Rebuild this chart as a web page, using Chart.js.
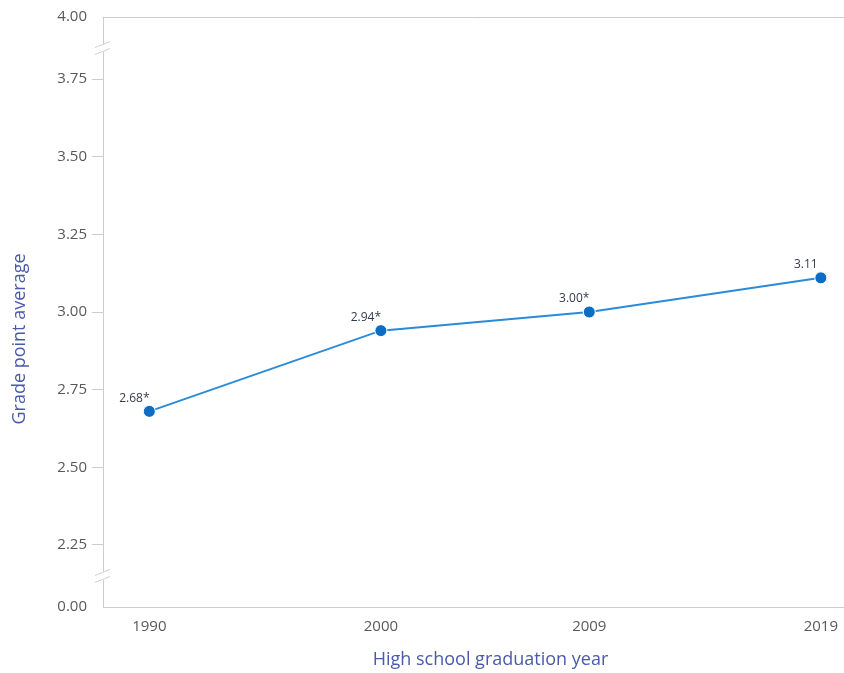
<!DOCTYPE html>
<html>
<head>
<meta charset="utf-8">
<script src="https://cdn.jsdelivr.net/npm/chart.js@4.4.1/dist/chart.umd.min.js"></script>
<style>
  html, body { margin: 0; padding: 0; background: #fff; }
  #wrap { width: 844px; height: 673px; }
</style>
</head>
<body>
<div id="wrap"><canvas id="gpaChart" width="844" height="673"></canvas></div>
<script>
// data
const years = [1990, 2000, 2009, 2019];
const gpa = [2.68, 2.94, 3.00, 3.11];
const significant = [true, true, true, false]; // the * marker
const yTicks = [0, 2.25, 2.50, 2.75, 3.00, 3.25, 3.50, 3.75, 4.00];
const xTicks = [1990, 2000, 2009, 2019];
const xTitle = "High school graduation year";
const yTitle = "Grade point average";

// broken axis: 0.00 and 4.00 sit just beyond the 2.25..3.75 band
const axisLow = 2.05, axisHigh = 3.95;
function toAxis(v) {
  if (v === 0) return axisLow;
  if (v === 4) return axisHigh;
  return v;
}
function fromAxis(v) {
  if (Math.abs(v - axisLow) < 1e-6) return 0;
  if (Math.abs(v - axisHigh) < 1e-6) return 4;
  return v;
}

const axisGray = "#cccccc";
const titleBlue = "#4a5aa8";
const tickGray = "#595959";

// labels above each point, axis titles, top border, axis break marks
const extras = {
  id: "extras",
  afterDatasetsDraw(chart) {
    const { ctx } = chart;
    const meta = chart.getDatasetMeta(0);
    ctx.save();
    ctx.font = "12px 'Open Sans'";
    ctx.fillStyle = "#333a4a";
    ctx.textAlign = "center";
    ctx.textBaseline = "middle";
    meta.data.forEach((pt, i) => {
      const txt = gpa[i].toFixed(2) + (significant[i] ? "*" : "");
      ctx.fillText(txt, pt.x - 15, pt.y - 13);
    });
    ctx.restore();
  },
  afterDraw(chart) {
    const { ctx, chartArea, scales } = chart;
    ctx.save();
    ctx.strokeStyle = axisGray;
    ctx.lineWidth = 1;
    ctx.beginPath();
    ctx.moveTo(chartArea.left, chartArea.top + 0.5);
    ctx.lineTo(chartArea.right, chartArea.top + 0.5);
    ctx.stroke();

    const x = chartArea.left;
    [(3.75 + axisHigh) / 2, (2.25 + axisLow) / 2].forEach(v => {
      const yc = scales.y.getPixelForValue(v);
      ctx.fillStyle = "#fff";
      ctx.fillRect(x - 3, yc - 4, 6, 8);
      ctx.strokeStyle = "#d0d0d0";
      ctx.beginPath();
      ctx.moveTo(x - 8, yc - 0.5);
      ctx.lineTo(x + 7, yc - 6.5);
      ctx.moveTo(x - 8, yc + 6.5);
      ctx.lineTo(x + 7, yc + 0.5);
      ctx.stroke();
    });

    // axis titles (sit a bit right / low of the plot centre in the original)
    ctx.fillStyle = titleBlue;
    ctx.font = "18px 'Open Sans'";
    ctx.textAlign = "center";
    ctx.textBaseline = "middle";
    ctx.fillText(xTitle, (chartArea.left + chartArea.right) / 2 + 17, 660);
    ctx.translate(20, (chartArea.top + chartArea.bottom) / 2 + 27);
    ctx.rotate(-Math.PI / 2);
    ctx.fillText(yTitle, 0, 0);
    ctx.restore();
  }
};

const data = {
  datasets: [
    {
      label: yTitle,
      data: years.map((yr, i) => ({ x: yr, y: gpa[i] })),
      borderColor: "#2a8bd8",
      borderWidth: 2,
      backgroundColor: "#0b6dc4",
      pointBackgroundColor: "#0b6dc4",
      pointBorderColor: "#ffffff",
      pointBorderWidth: 1,
      pointRadius: 6,
      pointHoverRadius: 6,
      tension: 0,
      fill: false,
    },
  ],
};

let config = {
  type: "line",
  data: data,
  options: {
    responsive: false,
    animation: false,
    layout: {
      autoPadding: false,
      padding: { top: 17, right: 0, left: 0, bottom: 0 },
    },
    scales: {
      x: {
        type: "linear",
        min: 1988,
        max: 2020,
        afterBuildTicks: (scale) => {
          scale.ticks = xTicks.map(v => ({ value: v }));
        },
        afterFit: (scale) => {
          scale.height = 66;
          scale.paddingLeft = 0;
          scale.paddingRight = 0;
        },
        grid: { display: false, drawTicks: false },
        border: { display: true, color: axisGray, width: 1 },
        ticks: {
          color: tickGray,
          padding: 11,
          maxRotation: 0,
          font: { family: "Open Sans", size: 15 },
          callback: (v) => String(v),
        },
        title: { display: false },
      },
      y: {
        type: "linear",
        min: axisLow,
        max: axisHigh,
        afterBuildTicks: (scale) => {
          scale.ticks = yTicks.map(v => ({ value: toAxis(v) }));
        },
        afterFit: (scale) => {
          scale.width = 103;
          scale.paddingTop = 0;
          scale.paddingBottom = 0;
        },
        grid: {
          drawOnChartArea: false,
          tickLength: 11,
          color: (c) => (c.tick && (c.tick.value === axisLow || c.tick.value === axisHigh)) ? "rgba(0,0,0,0)" : axisGray,
        },
        border: { display: true, color: axisGray, width: 1 },
        ticks: {
          color: tickGray,
          padding: 5,
          font: { family: "Open Sans", size: 15 },
          callback: (v) => fromAxis(v).toFixed(2),
        },
        title: { display: false },
      },
    },
    plugins: {
      legend: { display: false },
      tooltip: { enabled: false },
    },
  },
  plugins: [extras],
};

const ctx = document.getElementById("gpaChart").getContext("2d");
let myChart = new Chart(ctx, config);
</script>
</body>
</html>
